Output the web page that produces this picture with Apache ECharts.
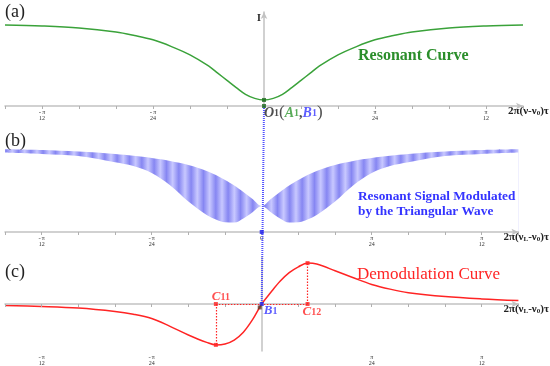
<!DOCTYPE html>
<html><head><meta charset="utf-8">
<script src="https://cdn.jsdelivr.net/npm/echarts@6/dist/echarts.min.js"></script>
<style>html,body{margin:0;padding:0;background:#fff}#c{width:550px;height:366px}</style>
</head><body><div id="c"></div>
<script>
// x in units of pi/72 (2π(ν-ν0)τ); ticks every unit, labels at ±π/24 (±3) and ±π/12 (±6)
const U = [-7,-6,-5,-4,-3.5,-3,-2.5,-2,-1.5,-1.25,-1,-0.75,-0.5,-0.25,0,0.25,0.5,0.75,1,1.25,1.5,2,2.5,3,3.5,4,5,6,7];
const resonant = [0.900,0.889,0.867,0.822,0.783,0.735,0.660,0.568,0.445,0.365,0.285,0.205,0.130,0.085,0.067,0.085,0.130,0.205,0.285,0.365,0.445,0.568,0.660,0.735,0.783,0.822,0.867,0.889,0.900];
const bandUpper = [0.919,0.911,0.894,0.867,0.846,0.822,0.789,0.744,0.678,0.633,0.578,0.517,0.444,0.367,0.289,0.367,0.444,0.517,0.578,0.633,0.678,0.744,0.789,0.822,0.846,0.867,0.894,0.911,0.919];
const bandLower = [0.883,0.867,0.844,0.775,0.733,0.655,0.520,0.340,0.190,0.140,0.108,0.105,0.150,0.220,0.289,0.220,0.150,0.105,0.108,0.140,0.190,0.340,0.520,0.655,0.733,0.775,0.844,0.867,0.883];
const demod = [-0.020,-0.032,-0.052,-0.095,-0.130,-0.185,-0.285,-0.395,-0.490,-0.522,-0.510,-0.460,-0.360,-0.200,0,0.150,0.290,0.400,0.475,0.522,0.510,0.425,0.335,0.250,0.190,0.145,0.095,0.065,0.045];
const tickVals = [-6,-3,3,6];
const tickDens = ['12','24','24','12'];

const SERIF = '"Liberation Serif", "DejaVu Serif", serif';
const GREEN = '#2f962f', BLUE = '#3434ff', RED = '#ff2424', AXIS = '#c2c2c2';

// stripe pattern for modulated band
const pc = document.createElement('canvas'); pc.width = 37; pc.height = 2;
const pg = pc.getContext('2d');
const grd = pg.createLinearGradient(0, 0, 37, 0);
for (let k = 0; k < 3; k++) { grd.addColorStop(k / 3, '#c8c8ff'); grd.addColorStop((k + 0.5) / 3, '#8686f2'); }
grd.addColorStop(1, '#c8c8ff');
pg.fillStyle = grd; pg.fillRect(0, 0, 37, 2);

function fracLabel(v, showZero) {
  const i = tickVals.indexOf(v);
  if (i < 0) return (showZero && v === 0) ? '{z|0}' : '';
  return (v < 0 ? '{m|-}' : '') + '{f|π}\n{f|' + tickDens[i] + '}';
}
const tickRich = {
  f: {fontSize: 6, lineHeight: 6, color: '#333', fontFamily: SERIF},
  m: {fontSize: 7, lineHeight: 6, color: '#333', fontFamily: SERIF, padding: [0, 1, 0, 0]},
  z: {fontSize: 7, color: '#555', fontFamily: SERIF}
};
const nameRich = {
  t: {fontSize: 11, fontWeight: 'bold', fontFamily: SERIF, color: '#222'},
  s: {fontSize: 7, fontWeight: 'bold', fontFamily: SERIF, color: '#222', verticalAlign: 'bottom', padding: [4, 0, 0, 0]}
};
function mkX(gi, name, showZero) {
  return {
    type: 'value', gridIndex: gi, min: -7, max: 7, interval: 1, z: 4,
    axisLine: {onZero: true, lineStyle: {color: AXIS, width: 1.5}, symbol: ['none', 'arrow'], symbolSize: [5, 7]},
    axisTick: {show: true, length: 3, lineStyle: {color: '#b0b0b0'}},
    splitLine: {show: false},
    axisLabel: {margin: 3, formatter: v => fracLabel(v, showZero), rich: tickRich},
    name: name, nameLocation: 'end', nameGap: -15,
    nameTextStyle: {align: 'left', verticalAlign: 'top', rich: nameRich}
  };
}
const nameA = '{t|2π(ν-ν}{s|0}{t|)τ}';
const nameL = '{t|2π(ν}{s|L}{t|-ν}{s|0}{t|)τ}';

const pts = arr => U.map((u, i) => [u, arr[i]]);

// extrema of demodulation curve
let iMin = 0, iMax = 0;
demod.forEach((v, i) => { if (v < demod[iMin]) iMin = i; if (v > demod[iMax]) iMax = i; });
const c11 = U[iMin], c12 = U[iMax];
const SM = 0.35;

const chart = echarts.init(document.getElementById('c'), null, {renderer: 'canvas'});
const option = {
  animation: false,
  backgroundColor: '#fff',
  title: [
    {text: '(a)', left: 5, top: 3, padding: 0, textStyle: {fontSize: 18, fontWeight: 'normal', fontFamily: SERIF, color: '#222'}},
    {text: '(b)', left: 5, top: 132, padding: 0, textStyle: {fontSize: 18, fontWeight: 'normal', fontFamily: SERIF, color: '#222'}},
    {text: '(c)', left: 5, top: 263, padding: 0, textStyle: {fontSize: 18, fontWeight: 'normal', fontFamily: SERIF, color: '#222'}}
  ],
  grid: [
    {left: 5, right: 27, top: 12, height: 94},
    {left: 5, right: 27, top: 142, height: 90},
    {left: 5, right: 27, top: 257, height: 108}
  ],
  xAxis: [mkX(0, nameA, false), mkX(1, nameL, true), mkX(2, nameL, false)],
  yAxis: [
    {type: 'value', gridIndex: 0, min: 0, max: 1.044,
     axisLine: {show: true, onZero: true, lineStyle: {color: AXIS, width: 1.5}, symbol: ['none', 'arrow'], symbolSize: [5, 7]},
     axisTick: {show: false}, axisLabel: {show: false}, splitLine: {show: false},
     name: 'I', nameLocation: 'end', nameGap: 0,
     nameTextStyle: {align: 'right', verticalAlign: 'top', padding: [1, 3, 0, 0], fontSize: 10, fontWeight: 'bold', fontFamily: SERIF, color: '#222'}},
    {type: 'value', gridIndex: 1, min: 0, max: 1,
     axisLine: {show: false}, axisTick: {show: false}, axisLabel: {show: false}, splitLine: {show: false}},
    {type: 'value', gridIndex: 2, min: -0.6, max: 0.6,
     axisLine: {show: true, onZero: true, lineStyle: {color: AXIS, width: 1.5}},
     axisTick: {show: false}, axisLabel: {show: false}, splitLine: {show: false}}
  ],
  series: [
    {type: 'line', xAxisIndex: 0, yAxisIndex: 0, data: pts(resonant), smooth: SM,
     showSymbol: false, lineStyle: {color: '#3aa23a', width: 1.5}},
    // band: striped fill under the upper envelope, then white fill under the lower envelope
    {type: 'line', xAxisIndex: 1, yAxisIndex: 1, data: pts(bandUpper), smooth: SM, z: 2,
     showSymbol: false, lineStyle: {width: 0, opacity: 0}, areaStyle: {color: {image: pc, repeat: 'repeat'}, opacity: 1, origin: 'start'}},
    {type: 'line', xAxisIndex: 1, yAxisIndex: 1, data: pts(bandLower), smooth: SM, z: 3,
     showSymbol: false, lineStyle: {width: 0, opacity: 0}, areaStyle: {color: '#ffffff', opacity: 1, origin: 'start'}},
    {type: 'line', xAxisIndex: 2, yAxisIndex: 2, data: pts(demod), smooth: SM,
     showSymbol: false, lineStyle: {color: RED, width: 1.5}, z: 3,
     markLine: {silent: true, symbol: ['none', 'none'], label: {show: false},
       lineStyle: {color: RED, type: [1.5, 1.5], width: 1.2},
       data: [
         [{coord: [c11, 0]}, {coord: [c11, demod[iMin]]}],
         [{coord: [c12, 0]}, {coord: [c12, demod[iMax]]}],
         [{coord: [c11, 0]}, {coord: [c12, 0]}]
       ]}},
    // panel a points
    {type: 'scatter', xAxisIndex: 0, yAxisIndex: 0, symbol: 'rect', symbolSize: 4, z: 6,
     itemStyle: {color: '#1d6a1d'},
     data: [
       {value: [0, resonant[U.indexOf(0)]]},
       {value: [0, 0], label: {show: true, position: [2, 9], align: 'left', verticalAlign: 'middle',
         formatter: '{o|O}{n|1}{p|(}{a|A}{n2|1}{c|,}{b|B}{n3|1}{p|)}',
         rich: {
           o: {fontSize: 14, fontStyle: 'italic', fontWeight: 'bold', fontFamily: SERIF, color: '#222'},
           n: {fontSize: 10, fontWeight: 'bold', fontFamily: SERIF, color: '#222'},
           p: {fontSize: 17, fontFamily: SERIF, color: '#222'},
           a: {fontSize: 14, fontStyle: 'italic', fontWeight: 'bold', fontFamily: SERIF, color: GREEN},
           n2: {fontSize: 10, fontWeight: 'bold', fontFamily: SERIF, color: GREEN},
           c: {fontSize: 14, fontWeight: 'bold', fontFamily: SERIF, color: '#222'},
           b: {fontSize: 14, fontStyle: 'italic', fontWeight: 'bold', fontFamily: SERIF, color: BLUE},
           n3: {fontSize: 10, fontWeight: 'bold', fontFamily: SERIF, color: BLUE}
         }}}
     ]},
    // panel b point
    {type: 'scatter', xAxisIndex: 1, yAxisIndex: 1, symbol: 'rect', symbolSize: 4, z: 6,
     itemStyle: {color: '#2020ee'}, data: [[0, 0]]},
    // panel c points
    {type: 'scatter', xAxisIndex: 2, yAxisIndex: 2, symbol: 'rect', symbolSize: 4, z: 6,
     itemStyle: {color: RED},
     data: [
       {value: [c11, 0], label: {show: true, position: [-2, -5], align: 'left', verticalAlign: 'middle',
         formatter: '{c|C}{n|11}', rich: {c: {fontSize: 13, fontStyle: 'italic', fontWeight: 'bold', fontFamily: SERIF, color: RED}, n: {fontSize: 10, fontWeight: 'bold', fontFamily: SERIF, color: RED}}}},
       {value: [c11, demod[iMin]]},
       {value: [c12, demod[iMax]]},
       {value: [c12, 0], label: {show: true, position: [-3, 10], align: 'left', verticalAlign: 'middle',
         formatter: '{c|C}{n|12}', rich: {c: {fontSize: 13, fontStyle: 'italic', fontWeight: 'bold', fontFamily: SERIF, color: RED}, n: {fontSize: 10, fontWeight: 'bold', fontFamily: SERIF, color: RED}}}},
       {value: [0, 0], itemStyle: {color: '#2020ee'}, label: {show: true, position: [4, 9], align: 'left', verticalAlign: 'middle',
         formatter: '{c|B}{n|1}', rich: {c: {fontSize: 13, fontStyle: 'italic', fontWeight: 'bold', fontFamily: SERIF, color: BLUE}, n: {fontSize: 10, fontWeight: 'bold', fontFamily: SERIF, color: BLUE}}}},
       {value: [-0.054, -0.044], symbolSize: 4, itemStyle: {color: '#5a3a2a'}}
     ]}
  ],
  graphic: [
    {type: 'text', id: 't1', left: 358, top: 48, z: 10, style: {text: 'Resonant Curve', fill: '#2b8e2b', font: 'bold 16px ' + SERIF}},
    {type: 'text', id: 't2', left: 358, top: 189, z: 10, style: {text: 'Resonant Signal Modulated\nby the Triangular Wave', fill: BLUE, font: 'bold 13.3px ' + SERIF, lineHeight: 15}},
    {type: 'text', id: 't3', left: 357, top: 266, z: 10, style: {text: 'Demodulation Curve', fill: RED, font: '17px ' + SERIF}}
  ]
};
chart.setOption(option);
const p1 = chart.convertToPixel({xAxisIndex: 0, yAxisIndex: 0}, [0, 0]);
const p2 = chart.convertToPixel({xAxisIndex: 2, yAxisIndex: 2}, [0, 0]);
chart.setOption({graphic: [{type: 'line', id: 'vline', z: 5,
  shape: {x1: p1[0], y1: p1[1], x2: p2[0], y2: p2[1]},
  style: {stroke: '#5050ff', lineWidth: 2, lineDash: [1, 1]}}]});
</script></body></html>
